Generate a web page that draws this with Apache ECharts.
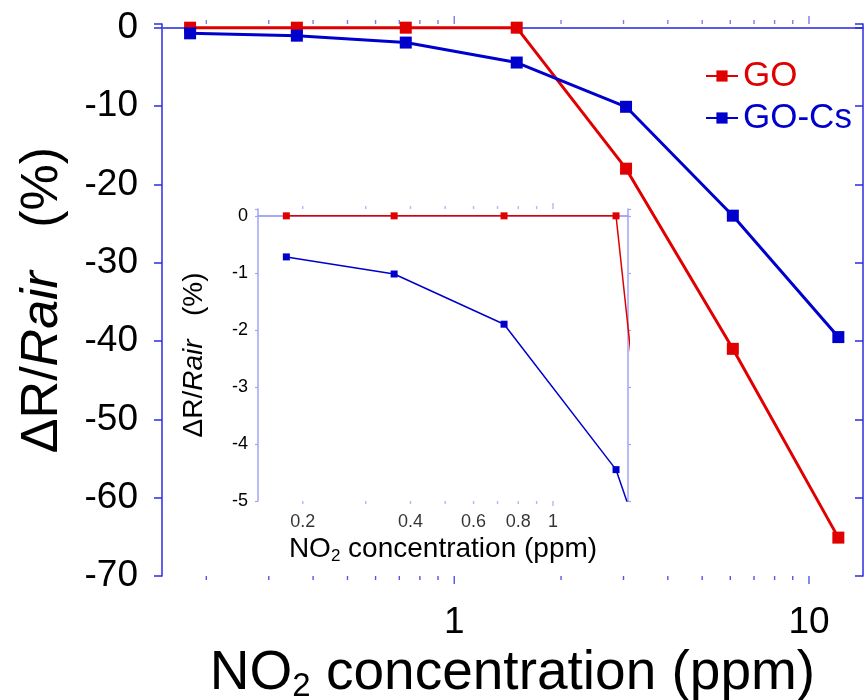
<!DOCTYPE html>
<html>
<head>
<meta charset="utf-8">
<script src="https://cdn.jsdelivr.net/npm/echarts@6/dist/echarts.min.js"></script>
<style>
html,body{margin:0;padding:0;background:#fff;}
#chart{width:865px;height:700px;}
</style>
</head>
<body>
<div id="chart"></div>
<script>
// ---- data ----
const concentration = [0.18, 0.36, 0.73, 1.5, 3.05, 6.1, 12.1];
const goValues      = [0, 0, 0, 0, -18.0, -41.0, -65.1];
const goCsValues    = [-0.72, -1.02, -1.9, -4.45, -10.1, -24.0, -39.5];

const seriesNames = ['GO', 'GO-Cs'];

// main plot axes
const mainXRange = [0.15, 14.2];
const mainYRange = [-70, 0.47];
const mainYStep = 10;
const mainXLabels = [1, 10];
const mainMajorTicks = [1, 10];
const mainMinorTicks = [0.2, 0.3, 0.4, 0.5, 0.6, 0.7, 0.8, 0.9, 2, 3, 4, 5, 6, 7, 8, 9];

// inset axes
const insetXRange = [0.15, 1.62];
const insetYRange = [-5, 0.12];
const insetYStep = 1;
const insetXLabels = [0.2, 0.4, 0.6, 0.8, 1];
const insetMajorTicks = [1];
const insetMinorTicks = [0.2, 0.3, 0.4, 0.5, 0.6, 0.7, 0.8, 0.9];

// ---- styles ----
const FONT = "'Liberation Sans', Arial, sans-serif";
const RED = '#e00000';
const BLUE = '#0000cc';
const AX_MAIN = '#2b2be0';
const AX_TOP = '#5a5aea';
const AX_INSET = '#a3a3f7';

const pairs = (ys) => concentration.map((x, i) => [x, ys[i]]);

function tickSeries(name, values, yVal, xIdx, yIdx, len, dir, color) {
  return {
    name: name, type: 'scatter', silent: true, clip: false,
    xAxisIndex: xIdx, yAxisIndex: yIdx,
    symbol: 'rect', symbolSize: [1.4, len], symbolOffset: [0, dir * len / 2],
    itemStyle: { color: color },
    data: values.map(v => [v, yVal]),
    z: 5
  };
}

const chart = echarts.init(document.getElementById('chart'), null, { renderer: 'canvas' });

const option = {
  animation: false,
  backgroundColor: '#ffffff',
  textStyle: { fontFamily: FONT },
  grid: [
    { left: 162, right: 2, top: 24, bottom: 124, containLabel: false, outerBoundsMode: 'none' },
    { left: 258, right: 237, top: 209, bottom: 199, containLabel: false, outerBoundsMode: 'none',
      show: true, backgroundColor: '#ffffff', borderWidth: 0 }
  ],
  legend: {
    orient: 'vertical', left: 700, top: 52, itemGap: 4,
    itemWidth: 32, itemHeight: 14,
    textStyle: { fontSize: 35, fontFamily: FONT, lineHeight: 38 },
    data: [
      { name: seriesNames[0], textStyle: { color: RED } },
      { name: seriesNames[1], textStyle: { color: BLUE } }
    ]
  },
  xAxis: [
    { type: 'log', logBase: 10, gridIndex: 0, position: 'bottom',
      min: mainXRange[0], max: mainXRange[1],
      axisLine: { lineStyle: { color: AX_MAIN, width: 1.5 } },
      axisTick: { show: false }, splitLine: { show: false },
      axisLabel: { margin: 28, fontSize: 37, color: '#000', fontFamily: FONT,
        formatter: v => mainXLabels.some(t => Math.abs(t - v) < 1e-9) ? String(v) : '' },
      name: '{a|NO}{s|2}{a| concentration (ppm)}',
      nameLocation: 'middle', nameGap: 50,
      nameTextStyle: { rich: {
        a: { fontSize: 55, fontFamily: FONT, color: '#000', lineHeight: 60 },
        s: { fontSize: 33, fontFamily: FONT, color: '#000', lineHeight: 35, verticalAlign: 'bottom' }
      } }
    },
    { type: 'log', logBase: 10, gridIndex: 0, position: 'top',
      min: mainXRange[0], max: mainXRange[1],
      axisLine: { lineStyle: { color: AX_TOP, width: 1.5 } },
      axisTick: { show: false }, axisLabel: { show: false }, splitLine: { show: false } },
    { type: 'log', logBase: 10, gridIndex: 1, position: 'bottom',
      min: insetXRange[0], max: insetXRange[1],
      axisLine: { lineStyle: { color: AX_INSET, width: 1.5 } },
      axisTick: { show: false }, axisLabel: { show: false }, splitLine: { show: false },
      name: '{a|NO}{s|2}{a| concentration (ppm)}',
      nameLocation: 'middle', nameGap: 33,
      nameTextStyle: { rich: {
        a: { fontSize: 28, fontFamily: FONT, color: '#000', lineHeight: 31 },
        s: { fontSize: 17, fontFamily: FONT, color: '#000', lineHeight: 19, verticalAlign: 'bottom' }
      } }
    },
    { type: 'log', logBase: 10, gridIndex: 1, position: 'top',
      min: insetXRange[0], max: insetXRange[1],
      axisLine: { lineStyle: { color: AX_INSET, width: 1.5 } },
      axisTick: { show: false }, axisLabel: { show: false }, splitLine: { show: false } }
  ],
  yAxis: [
    { type: 'value', gridIndex: 0, position: 'left',
      min: mainYRange[0], max: mainYRange[1], interval: mainYStep,
      axisLine: { show: true, lineStyle: { color: AX_MAIN, width: 1.5 } },
      axisTick: { show: true, length: 8, lineStyle: { color: AX_MAIN, width: 1.5 } },
      splitLine: { show: false },
      axisLabel: { margin: 24, fontSize: 37, color: '#000', fontFamily: FONT,
        formatter: v => (Math.abs(v / mainYStep - Math.round(v / mainYStep)) < 1e-9 && v <= 0) ? String(Math.round(v)) : '' },
      name: '{n|ΔR/}{i|Rair}{n|   (%)}',
      nameLocation: 'middle', nameGap: 93, nameRotate: 90,
      nameTextStyle: { rich: {
        n: { fontSize: 52, fontFamily: FONT, color: '#000' },
        i: { fontSize: 52, fontFamily: FONT, color: '#000', fontStyle: 'italic' }
      } }
    },
    { type: 'value', gridIndex: 0, position: 'right',
      min: mainYRange[0], max: mainYRange[1], interval: mainYStep,
      axisLine: { show: true, lineStyle: { color: AX_MAIN, width: 1.5 } },
      axisTick: { show: true, inside: true, length: 8, lineStyle: { color: AX_MAIN, width: 1.5 } },
      axisLabel: { show: false }, splitLine: { show: false } },
    { type: 'value', gridIndex: 1, position: 'left',
      min: insetYRange[0], max: insetYRange[1], interval: insetYStep,
      axisLine: { show: true, lineStyle: { color: AX_INSET, width: 1.5 } },
      axisTick: { show: true, length: 3, lineStyle: { color: AX_INSET, width: 1.2 } },
      splitLine: { show: false },
      axisLabel: { margin: 10, fontSize: 18, color: '#000', fontFamily: FONT,
        formatter: v => (Math.abs(v - Math.round(v)) < 1e-9 && v <= 0) ? String(Math.round(v)) : '' },
      name: '{n|ΔR/}{i|Rair}{n|   (%)}',
      nameLocation: 'middle', nameGap: 50, nameRotate: 90,
      nameTextStyle: { rich: {
        n: { fontSize: 28, fontFamily: FONT, color: '#000' },
        i: { fontSize: 28, fontFamily: FONT, color: '#000', fontStyle: 'italic' }
      } }
    },
    { type: 'value', gridIndex: 1, position: 'right',
      min: insetYRange[0], max: insetYRange[1], interval: insetYStep,
      axisLine: { show: true, lineStyle: { color: AX_INSET, width: 1.5 } },
      axisTick: { show: true, length: 3, lineStyle: { color: AX_INSET, width: 1.2 } },
      axisLabel: { show: false }, splitLine: { show: false } }
  ],
  series: [
    { name: seriesNames[0], type: 'line', xAxisIndex: 0, yAxisIndex: 0,
      data: pairs(goValues), symbol: 'rect', symbolSize: 12,
      lineStyle: { color: RED, width: 3 }, itemStyle: { color: RED }, z: 4 },
    { name: seriesNames[1], type: 'line', xAxisIndex: 0, yAxisIndex: 0,
      data: pairs(goCsValues), symbol: 'rect', symbolSize: 12,
      lineStyle: { color: BLUE, width: 3 }, itemStyle: { color: BLUE }, z: 4 },
    { name: seriesNames[0], type: 'line', xAxisIndex: 2, yAxisIndex: 2,
      data: pairs(goValues), symbol: 'rect', symbolSize: 7, clip: true,
      lineStyle: { color: RED, width: 1.5 }, itemStyle: { color: RED }, z: 4 },
    { name: seriesNames[1], type: 'line', xAxisIndex: 2, yAxisIndex: 2,
      data: pairs(goCsValues), symbol: 'rect', symbolSize: 7, clip: true,
      lineStyle: { color: BLUE, width: 1.5 }, itemStyle: { color: BLUE }, z: 4 },

    // main x ticks (bottom: outward down, top: outward up)
    tickSeries('mb-minor', mainMinorTicks, mainYRange[0], 0, 0, 4, 1, AX_MAIN),
    tickSeries('mb-major', mainMajorTicks, mainYRange[0], 0, 0, 8, 1, AX_MAIN),
    tickSeries('mt-minor', mainMinorTicks, mainYRange[1], 0, 0, 4, -1, AX_TOP),
    tickSeries('mt-major', mainMajorTicks, mainYRange[1], 0, 0, 8, -1, AX_TOP),
    // inset x ticks
    tickSeries('ib-minor', insetMinorTicks, insetYRange[0], 2, 2, 3, 1, AX_INSET),
    tickSeries('ib-major', insetMajorTicks, insetYRange[0], 2, 2, 5, 1, AX_INSET),
    tickSeries('it-minor', insetMinorTicks, insetYRange[1], 2, 2, 3, -1, AX_INSET),
    tickSeries('it-major', insetMajorTicks, insetYRange[1], 2, 2, 6, -1, AX_INSET),
    // inset x tick labels
    { name: 'inset-x-labels', type: 'scatter', silent: true, clip: false,
      xAxisIndex: 2, yAxisIndex: 2, symbolSize: 0,
      data: insetXLabels.map(v => [v, insetYRange[0]]),
      label: { show: true, position: 'bottom', distance: 12, fontSize: 18,
        color: '#000', fontFamily: FONT, formatter: p => String(p.value[0]) } }
  ]
};

chart.setOption(option);
</script>
</body>
</html>
